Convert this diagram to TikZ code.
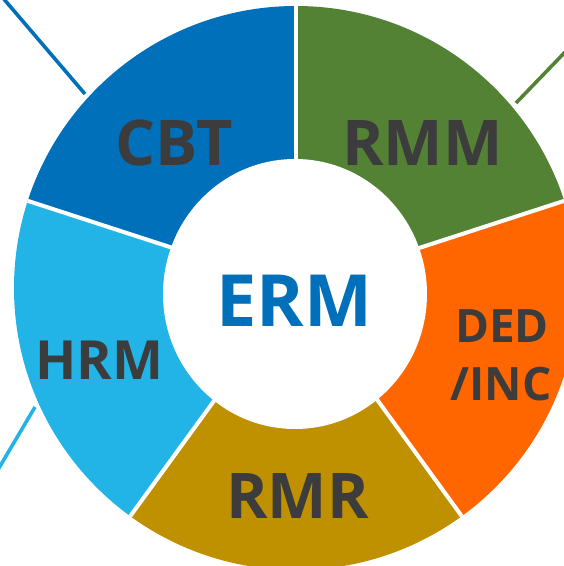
\documentclass[tikz,border=0pt]{standalone}
\usepackage{fontspec}
\setmainfont{Open Sans}
\usetikzlibrary{positioning}
\definecolor{cbtblue}{HTML}{0070BA}
\definecolor{rmmgreen}{HTML}{548235}
\definecolor{dedorange}{HTML}{FF6600}
\definecolor{rmrgold}{HTML}{BF9000}
\definecolor{hrmblue}{HTML}{22B4E6}
\definecolor{textgray}{HTML}{3C3C3C}
\tikzstyle{seglabel} = [text=textgray, font=\bfseries\fontsize{63}{63}\selectfont, inner sep=0pt, anchor=base]
\tikzstyle{gapline} = [white, line width=4pt]
\tikzstyle{leader} = [line width=3.6pt]
\begin{document}
\begin{tikzpicture}[x=1pt, y=1pt]
    \useasboundingbox (0,0) rectangle (564,566);
    \clip (0,0) rectangle (564,566);

    % ring segments
    \begin{scope}[shift={(296,278)}]
        \clip (0,0) circle (282);
        \foreach \a/\col in {90/cbtblue, 18/rmmgreen, -54/dedorange, -126/rmrgold, 162/hrmblue}
            \fill[\col] (0,0) -- (\a:400) -- (\a+36:500) -- (\a+72:400) -- cycle;
        \foreach \a in {90, 18, -54, -126, 162}
            \draw[gapline] (0,0) -- (\a:320);
    \end{scope}
    \fill[white] (295,272) ellipse [x radius=132, y radius=135];

    % leader lines
    \coordinate (cbtend) at (85,472);
    \coordinate (cbtfree) at (-3,575);
    \coordinate (rmmend) at (516,463);
    \coordinate (rmmfree) at (569,518);
    \coordinate (hrmend) at (35,159);
    \coordinate (hrmfree) at (-4,93);
    \draw[leader, cbtblue] (cbtend) -- (cbtfree);
    \draw[leader, rmmgreen] (rmmend) -- (rmmfree);
    \draw[leader, hrmblue] (hrmend) -- (hrmfree);

    % labels
    \node[seglabel] (cbt) at (174,400) {CBT};
    \node[seglabel] (rmm) at (422.5,400) {RMM};
    \node[seglabel, font=\bfseries\fontsize{54}{54}\selectfont] (hrm) at (99.5,186) {HRM};
    \node[seglabel] (rmr) at (297.5,48) {RMR};
    \node[seglabel, font=\bfseries\fontsize{46}{46}\selectfont] (ded) at (502,223) {DED};
    \node[seglabel, font=\bfseries\fontsize{46}{46}\selectfont] (inc) at (501,165) {/INC};
    \node[seglabel, text=cbtblue, font=\bfseries\fontsize{72}{72}\selectfont] (erm) at (294.5,239) {ERM};
\end{tikzpicture}
\end{document}
